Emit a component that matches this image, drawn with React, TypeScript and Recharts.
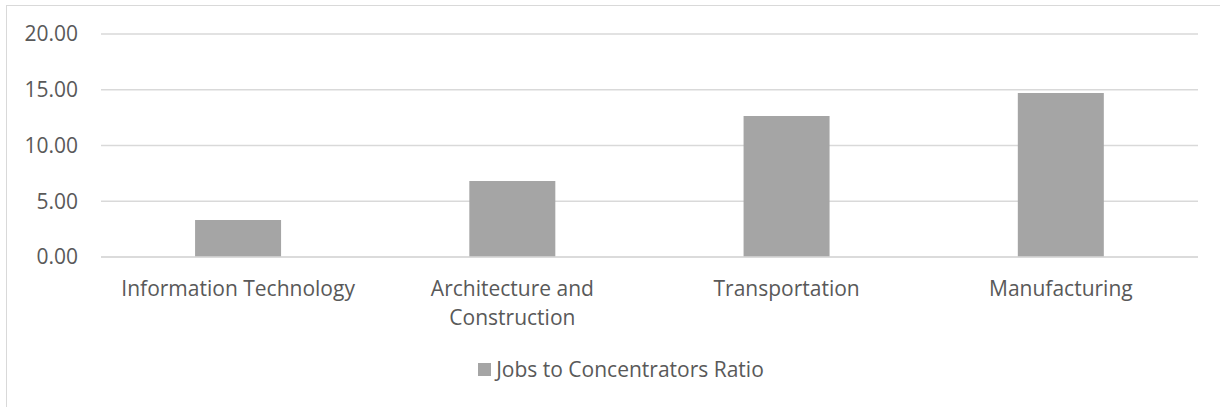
import React from 'react';
import { BarChart, Bar, XAxis, YAxis, CartesianGrid, Legend } from 'recharts';

const categories = ['Information Technology', 'Architecture and Construction', 'Transportation', 'Manufacturing'];
const ratios = [3.32, 6.82, 12.65, 14.71];
const yTicks = [0, 5, 10, 15, 20];
const seriesName = 'Jobs to Concentrators Ratio';

const data = categories.map((c, i) => ({ category: c, ratio: ratios[i] }));

const FONT = '"Open Sans", sans-serif';
const FS = 21;
const TEXT = '#595959';
const BAR = '#a5a5a5';
const GRID = '#d9d9d9';
const MAX_CHARS = 24;

function wrapLabel(label: string): string[] {
  if (label.length <= MAX_CHARS) return [label];
  const words = label.split(' ');
  const lines: string[] = [];
  let cur = '';
  for (const w of words) {
    const next = cur ? cur + ' ' + w : w;
    if (next.length > 16 && cur) {
      lines.push(cur);
      cur = w;
    } else {
      cur = next;
    }
  }
  if (cur) lines.push(cur);
  return lines;
}

const XTick = (props: any) => {
  const { x, y, payload } = props;
  const lines = wrapLabel(String(payload.value));
  return (
    <text x={x} y={y + 31} textAnchor="middle" fill={TEXT} fontSize={FS} fontFamily={FONT}>
      {lines.map((l, i) => (
        <tspan key={i} x={x} dy={i === 0 ? 0 : 29}>
          {l}
        </tspan>
      ))}
    </text>
  );
};

const LegendContent = () => (
  <div style={{ display: 'flex', alignItems: 'center', justifyContent: 'center', fontFamily: FONT, fontSize: FS, color: TEXT }}>
    <span style={{ display: 'inline-block', width: 13, height: 13, background: BAR, marginRight: 5 }} />
    <span>{seriesName}</span>
  </div>
);

export default function App() {
  return (
    <div style={{ position: 'absolute', top: 0, left: 0, width: 1220, height: 407, overflow: 'hidden', background: '#fff' }}>
      <div style={{ position: 'absolute', left: 6, top: 5, width: 1400, height: 600, borderLeft: `1px solid ${GRID}`, borderTop: `1px solid ${GRID}` }} />
      <div style={{ position: 'absolute', left: 0, top: 0 }}>
        <BarChart
          width={1220}
          height={407}
          data={data}
          margin={{ top: 34, right: 22, bottom: 0, left: 0 }}
          barCategoryGap="34.3%"
        >
          <CartesianGrid vertical={false} stroke={GRID} strokeWidth={1.3} />
          <XAxis
            dataKey="category"
            interval={0}
            height={150}
            axisLine={{ stroke: GRID, strokeWidth: 1.3 }}
            tickLine={false}
            tick={<XTick />}
          />
          <YAxis
            width={101}
            domain={[0, 20]}
            ticks={yTicks}
            axisLine={false}
            tickLine={false}
            tickMargin={17}
            tickFormatter={(v: number) => v.toFixed(2)}
            tick={{ fill: TEXT, fontSize: FS, fontFamily: FONT }}
          />
          <Legend
            verticalAlign="middle"
            align="center"
            wrapperStyle={{ top: 355, left: 11, width: 1220 }}
            content={<LegendContent />}
          />
          <Bar dataKey="ratio" name={seriesName} fill={BAR} isAnimationActive={false} />
        </BarChart>
      </div>
    </div>
  );
}
